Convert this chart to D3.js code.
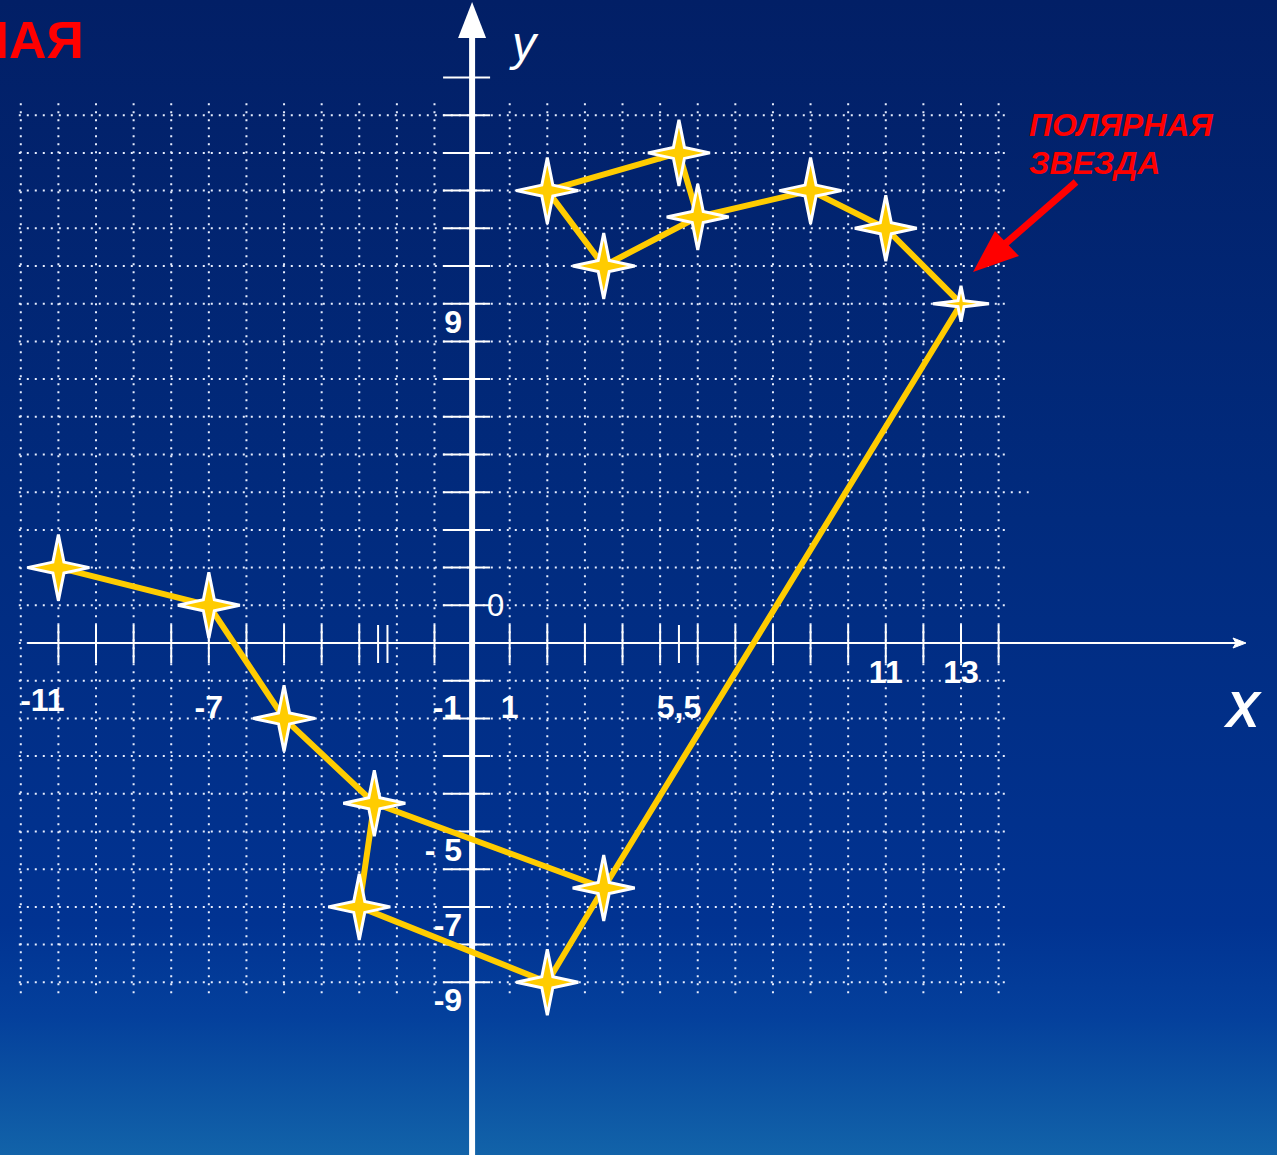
<!DOCTYPE html>
<html>
<head>
<meta charset="utf-8">
<script src="https://cdn.jsdelivr.net/npm/d3@7/dist/d3.min.js"></script>
<style>
  html, body { margin: 0; padding: 0; background: #021f66; }
  svg { display: block; }
  text { font-family: "Liberation Sans", Arial, sans-serif; }
</style>
</head>
<body>
<div id="chart"></div>
<script>
// Stars of the constellation (Ursa Minor) — x, y in chart units
var starX = [-11, -7, -5, -2.6, -3, 2, 3.5, 13, 11, 9, 6, 5.5, 2, 3.5];
var starY = [2, 1, -2, -4.25, -7, -9, -6.5, 9, 11, 12, 11.3, 13, 12, 10];
// two polylines through the stars (indices into the arrays above)
var pathA = [0, 1, 2, 3, 4, 5, 6, 3];
var pathB = [6, 7, 8, 9, 10, 11, 12, 13, 10];
var polarIndex = 7;

// axes
var xTicks = [-11, -10, -9, -8, -7, -6, -5, -4, -3, -2.5, -2.25, -1, 1, 2, 3, 4, 5, 5.5, 6, 7, 8, 9, 10, 11, 12, 13, 14];
var yTicks = [15, 14, 13, 12, 11, 10, 9, 8, 7, 6, 5, 4, 3, 2, 1, -1, -2, -3, -4, -5, -6, -7, -8, -9];
var xTickLabels = ['-11', '-7', '-1', '1', '5,5', '11', '13'];
var xTickValues = [-11, -7, -1, 1, 5.5, 11, 13];
var yTickLabels = ['9', '- 5', '-7', '-9'];
var yTickValues = [9, -5, -7, -9];
var gridX = d3.range(-12, 15);   // vertical dotted lines
var gridY = d3.range(-9, 15);    // horizontal dotted lines

var W = 1277, H = 1155;
var x = d3.scaleLinear().domain([-11, 13]).range([58.4, 961]);
var y = d3.scaleLinear().domain([-9, 13]).range([982.3, 152.9]);
var X0 = x(0), Y0 = y(0);

var svg = d3.select('#chart').append('svg').attr('width', W).attr('height', H);
var defs = svg.append('defs');
var grad = defs.append('linearGradient').attr('id', 'bg').attr('x1', 0).attr('y1', 0).attr('x2', 0).attr('y2', 1);
[[0, '#021f66'], [0.45, '#012b7e'], [0.8, '#013392'], [0.88, '#04409c'], [1, '#1263a9']].forEach(function (s) {
  grad.append('stop').attr('offset', s[0]).attr('stop-color', s[1]);
});
svg.append('rect').attr('width', W).attr('height', H).attr('fill', 'url(#bg)');

// dotted grid
var grid = svg.append('g').attr('stroke', '#e8eeff').attr('stroke-width', 2).attr('stroke-dasharray', '2,6');
grid.selectAll('line.v').data(gridX).join('line').attr('class', 'v')
  .attr('x1', function (d) { return x(d); }).attr('x2', function (d) { return x(d); })
  .attr('y1', y(14) - 12).attr('y2', y(-9) + 12);
grid.selectAll('line.h').data(gridY).join('line').attr('class', 'h')
  .attr('y1', function (d) { return y(d); }).attr('y2', function (d) { return y(d); })
  .attr('x1', x(-12) - 2).attr('x2', function (d) { return d === 4 ? x(14.8) : x(14.2); });

// x axis
var ax = svg.append('g').attr('stroke', '#fff');
ax.append('line').attr('x1', 28).attr('x2', 1240).attr('y1', Y0).attr('y2', Y0).attr('stroke-width', 2);
ax.append('path').attr('d', 'M1246,' + Y0 + 'L1233,' + (Y0 - 5) + 'L1236,' + Y0 + 'L1233,' + (Y0 + 5) + 'Z')
  .attr('fill', '#fff').attr('stroke-width', 1);
ax.selectAll('line.xt').data(xTicks).join('line').attr('class', 'xt')
  .attr('x1', function (d) { return x(d); }).attr('x2', function (d) { return x(d); })
  .attr('y1', Y0 - 18).attr('y2', Y0 + 20).attr('stroke-width', 2);

// y axis
ax.selectAll('line.yt').data(yTicks).join('line').attr('class', 'yt')
  .attr('y1', function (d) { return y(d); }).attr('y2', function (d) { return y(d); })
  .attr('x1', X0 - 29).attr('x2', X0 + 18).attr('stroke-width', 2);
ax.append('line').attr('x1', X0).attr('x2', X0).attr('y1', 36).attr('y2', H).attr('stroke-width', 6);
svg.append('path').attr('d', 'M' + (X0 - 14) + ',38L' + X0 + ',2L' + (X0 + 14) + ',38Z').attr('fill', '#fff');

// constellation lines
var line = d3.line().x(function (i) { return x(starX[i]); }).y(function (i) { return y(starY[i]); });
svg.append('g').selectAll('path').data([pathA, pathB]).join('path')
  .attr('d', line).attr('fill', 'none').attr('stroke', '#ffcc00')
  .attr('stroke-width', 6).attr('stroke-linejoin', 'round');

// four-pointed stars
function starPath(rx, ry, w) {
  return 'M' + rx + ',0L' + w + ',' + w + 'L0,' + ry + 'L' + (-w) + ',' + w + 'L' + (-rx) + ',0L' +
    (-w) + ',' + (-w) + 'L0,' + (-ry) + 'L' + w + ',' + (-w) + 'Z';
}
svg.append('g').selectAll('path').data(d3.range(starX.length)).join('path')
  .attr('transform', function (i) { return 'translate(' + x(starX[i]) + ',' + y(starY[i]) + ')'; })
  .attr('d', function (i) { return i === polarIndex ? starPath(28, 18, 3) : starPath(31, 33, 5.5); })
  .attr('fill', '#ffcc00').attr('stroke', '#fff').attr('stroke-width', 3).attr('stroke-linejoin', 'miter');

// tick labels
var lab = svg.append('g').attr('fill', '#fff').attr('font-weight', 'bold').attr('font-size', 32);
lab.selectAll('text.xl').data(xTickValues).join('text').attr('class', 'xl')
  .attr('x', function (d) { return d === -1 ? X0 - 11 : x(d) + (d === -11 ? -16 : 0); })
  .attr('y', function (d) { return Y0 + (d >= 11 ? 40 : (d === -11 ? 68 : 75)); })
  .attr('text-anchor', function (d) { return d === -1 ? 'end' : 'middle'; })
  .text(function (d, i) { return xTickLabels[i]; });
lab.selectAll('text.yl').data(yTickValues).join('text').attr('class', 'yl')
  .attr('x', X0 - 10).attr('y', function (d) { return y(d) + 29; })
  .attr('text-anchor', 'end')
  .text(function (d, i) { return yTickLabels[i]; });
svg.append('text').attr('x', X0 + 15).attr('y', Y0 - 27).attr('fill', '#fff')
  .attr('font-size', 31).text('0');

// axis names
svg.append('text').attr('x', 512).attr('y', 60).attr('fill', '#fff').attr('font-size', 48)
  .attr('font-style', 'italic').text('у');
svg.append('text').attr('x', 1226).attr('y', 727).attr('fill', '#fff').attr('font-size', 50)
  .attr('font-style', 'italic').attr('font-weight', 'bold').text('X');

// title fragment and annotation
svg.append('text').attr('x', 84).attr('y', 58).attr('text-anchor', 'end').attr('fill', '#ff0000')
  .attr('font-size', 52).attr('font-weight', 'bold').text('НАЯ');
var ann = svg.append('text').attr('fill', '#ff0000').attr('font-size', 32)
  .attr('font-weight', 'bold').attr('font-style', 'italic');
ann.append('tspan').attr('x', 1029).attr('y', 136).text('ПОЛЯРНАЯ');
ann.append('tspan').attr('x', 1029).attr('y', 174).text('ЗВЕЗДА');
svg.append('line').attr('x1', 1076).attr('y1', 182).attr('x2', 998).attr('y2', 250)
  .attr('stroke', '#ff0000').attr('stroke-width', 7);
svg.append('path').attr('d', 'M973,272L995,231L1019,256Z').attr('fill', '#ff0000');
</script>
</body>
</html>
